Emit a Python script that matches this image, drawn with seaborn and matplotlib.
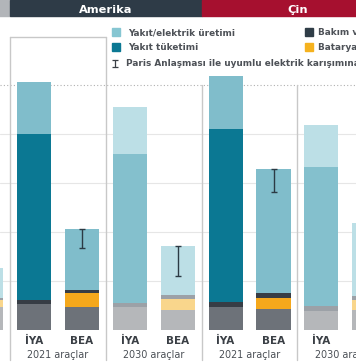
import matplotlib
matplotlib.use("Agg")
import matplotlib.pyplot as plt
import seaborn as sns
import pandas as pd
import numpy as np
from matplotlib.patches import Rectangle
from matplotlib.lines import Line2D

sns.set_theme(style="white")
plt.rcParams['font.family'] = ['DejaVu Sans']

# ---------------- data ----------------
bar_ids = ["Avrupa 2030 BEA", "Amerika 2021 İYA", "Amerika 2021 BEA",
           "Amerika 2030 İYA", "Amerika 2030 BEA", "Çin 2021 İYA",
           "Çin 2021 BEA", "Çin 2030 İYA", "Çin 2030 BEA"]
bar_labels = ["BEA", "İYA", "BEA", "İYA", "BEA", "İYA", "BEA", "İYA", "BEA"]
bar_years = ["2030", "2021", "2021", "2030", "2030", "2021", "2021", "2030", "2030"]
group_labels = ["2021 araçlar", "2030 araçlar", "2021 araçlar", "2030 araçlar"]
regions = ["Amerika", "Çin"]

arac_uretimi = [4.7, 5.3, 4.7, 4.7, 4.1, 4.7, 4.3, 3.9, 4.1]
batarya = [1.4, 0.0, 2.9, 0.0, 2.2, 0.0, 2.2, 0.0, 2.0]
bakim = [0.4, 0.8, 0.6, 0.8, 0.8, 1.0, 1.0, 1.0, 0.8]
yakit_tuketimi = [0.0, 33.9, 0.0, 30.4, 0.0, 35.3, 0.0, 28.4, 0.0]
yakit_elektrik_uretimi = [6.1, 10.6, 12.4, 9.6, 10.0, 10.8, 25.3, 8.6, 14.9]
paris_uyumlu = [np.nan, np.nan, 16.7, np.nan, 11.0, np.nan, 28.2, np.nan, np.nan]

legend_labels = ["Yakıt/elektrik üretimi", "Yakıt tüketimi",
                 "Paris Anlaşması ile uyumlu elektrik karışımına göre",
                 "Bakım ve onarım", "Batarya üretimi"]

# ---------------- styles ----------------
layer_colors = {
    "arac": {"2021": "#6d7279", "2030": "#b5b7ba"},
    "batarya": {"2021": "#f5a81c", "2030": "#f9d68c"},
    "bakim": {"2021": "#373d45", "2030": "#9ca1a7"},
    "yakit": {"2021": "#0b7893", "2030": "#84c0cd"},
    "uretim": {"2021": "#80bdcb", "2030": "#bcdfe6"},
}

W, H = 356, 364
PX = 4.9          # pixels per unit
BASE = 330        # baseline pixel (from top)
fig = plt.figure(figsize=(W / 100, H / 100), dpi=100)
fig.patch.set_facecolor("white")
ax = fig.add_axes([0, (H - BASE) / H, 1, BASE / H])
ax.set_facecolor("white")

def val(py):
    return (BASE - py) / PX

layers = [("arac", arac_uretimi), ("batarya", batarya), ("bakim", bakim),
          ("yakit", yakit_tuketimi), ("uretim", yakit_elektrik_uretimi)]
cum = np.cumsum(np.array([l[1] for l in layers]), axis=0)

# gridlines
for g in [10, 20, 30, 40]:
    ax.axhline(g, color="#e6e6e6", lw=0.8, zorder=0)
ax.axhline(50, color="#b0b0b0", lw=0.8, ls=(0, (1, 2)), zorder=0)

# stacked bars (drawn as overlapping cumulative bars, top first)
for k in range(len(layers) - 1, -1, -1):
    name = layers[k][0]
    df = pd.DataFrame({"bar": bar_ids, "value": cum[k]})
    pal = {b: layer_colors[name][y] for b, y in zip(bar_ids, bar_years)}
    sns.barplot(data=df, x="bar", y="value", hue="bar", order=bar_ids,
                hue_order=bar_ids, palette=pal, saturation=1, width=0.71,
                errorbar=None, dodge=False, legend=False, linewidth=0,
                ax=ax, zorder=2)

# Paris-aligned error bars
tot = cum[-1]
xs, tops, lows = [], [], []
for i, p in enumerate(paris_uyumlu):
    if not np.isnan(p):
        xs.append(i); tops.append(tot[i]); lows.append(tot[i] - p)
ax.errorbar(xs, tops, yerr=[lows, np.zeros(len(xs))], fmt="none",
            ecolor="#2b3a44", elinewidth=1, capsize=2, capthick=1, zorder=5)

x0, x1 = 1 - 34 / 47.9, 1 + 322 / 47.9
ax.set_xlim(x0, x1)
ax.set_ylim(0, val(0))
ax.set_xticks([])
ax.set_yticks([])
ax.set_xlabel("")
ax.set_ylabel("")
for s in ax.spines.values():
    s.set_visible(False)

# separators
sep_col = "#c8c8c8"
for xsep in [0.5, 2.5]:
    ax.plot([xsep, xsep], [val(37), val(360)], color=sep_col, lw=1, clip_on=False, zorder=1)
ax.plot([0.5, 2.5], [val(37), val(37)], color=sep_col, lw=1, clip_on=False, zorder=1)
for xsep in [4.5, 6.5]:
    ax.plot([xsep, xsep], [val(85), val(360)], color=sep_col, lw=1, clip_on=False, zorder=1)

# header
hdr_top, hdr_bot = val(0), val(16)
ax.add_patch(Rectangle((x0 - 1, hdr_bot), 0.5 - x0 + 1, hdr_top - hdr_bot,
                       color="#b2b5b9", clip_on=False, zorder=6))
ax.add_patch(Rectangle((0.5, hdr_bot), 4.0, hdr_top - hdr_bot,
                       color="#2e3b47", clip_on=False, zorder=6))
ax.add_patch(Rectangle((4.5, hdr_bot), 4.0, hdr_top - hdr_bot,
                       color="#a6102f", clip_on=False, zorder=6))
for cx, r in zip([2.5, 6.5], regions):
    ax.text(cx, val(13), r, color="white", fontsize=8.2, fontweight="bold",
            ha="center", va="baseline", zorder=7)

# tick labels (only those whose bar centre lies inside the visible window)
for i, lab in enumerate(bar_labels):
    if x0 < i < x1:
        ax.text(i, val(344), lab, ha="center", va="baseline", fontsize=7.5,
                fontweight="bold", color="#3a3f45", clip_on=False)
for gi, gl in enumerate(group_labels):
    cx = 1.5 + 2 * gi
    ax.text(cx, val(357.5), gl, ha="center", va="baseline", fontsize=6.9,
            color="#4a4f55", clip_on=False)

# legend (manual)
def fx(px):
    return px / W

def fy(py):
    return 1 - py / H

txt_col = "#4d5157"
leg_sq = [(112, 28, "#86c6d2"), (112, 43, "#0b7893"),
          (305, 28, "#2f3d47"), (305, 43, "#f5b21e")]
for (px, py, c) in leg_sq:
    fig.add_artist(Rectangle((fx(px), fy(py + 8)), 8 / W, 8 / H, color=c,
                             transform=fig.transFigure))
fig.add_artist(Line2D([fx(115), fx(115)], [fy(59.5), fy(66.5)], color="#3a3f45",
                      lw=0.9, marker="_", markersize=4.5, markeredgewidth=0.9,
                      transform=fig.transFigure))
leg_pos = [(128, 35), (128, 50), (126, 66), (318, 35), (318, 50)]
for (px, py), t in zip(leg_pos, legend_labels):
    fig.text(fx(px), fy(py), t, ha="left", va="baseline", fontsize=6.4,
             fontweight="semibold", color=txt_col)

fig.savefig("out.png", dpi=100, facecolor="white")
